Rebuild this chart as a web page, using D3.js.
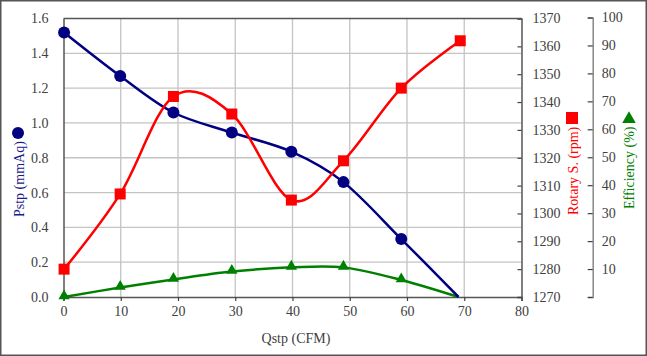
<!DOCTYPE html>
<html><head><meta charset="utf-8">
<script src="https://cdn.jsdelivr.net/npm/d3@7"></script>
<style>html,body{margin:0;padding:0;background:#fff;}svg{display:block;}
svg text{font-family:"Liberation Serif","DejaVu Serif",serif !important;}</style>
</head><body>
<script>
const qstp = [0.1, 9.9, 19.2, 29.4, 39.8, 48.9, 59.0, 69.0];
const pstp = [1.52, 1.27, 1.06, 0.945, 0.835, 0.66, 0.333, 0];
const rpmQ = [0.1, 9.9, 19.2, 29.4, 39.8, 48.9, 59.0, 69.3];
const rpm = [1280, 1307, 1342, 1335.7, 1304.8, 1318.9, 1345, 1362];
const eff = [0, 3.4, 6.3, 9.1, 10.6, 10.6, 6.1, 0];
const xTicks = [0,10,20,30,40,50,60,70,80];
const pTicks = [0,0.2,0.4,0.6,0.8,1.0,1.2,1.4,1.6];
const rTicks = [1270,1280,1290,1300,1310,1320,1330,1340,1350,1360,1370];
const eTicks = [0,10,20,30,40,50,60,70,80,90,100];

const W=647,H=356;
const svg=d3.select("body").append("svg").attr("width",W).attr("height",H);
svg.append("rect").attr("x",0.75).attr("y",0.75).attr("width",W-1.5).attr("height",H-1.5)
  .attr("fill","#fff").attr("stroke","#555").attr("stroke-width",1.5);

const x=d3.scaleLinear([0,80],[63.5,521.5]);
const yP=d3.scaleLinear([0,1.6],[297,18.5]);
const yR=d3.scaleLinear([1270,1370],[297,18.5]);
const yE=d3.scaleLinear([0,100],[297,17.5]);

// grid
const g=svg.append("g");
g.selectAll(".vg").data(xTicks.slice(1,-1)).join("line")
 .attr("x1",d=>x(d)).attr("x2",d=>x(d)).attr("y1",yP(1.6)).attr("y2",yP(0))
 .attr("stroke","#c4c4c4").attr("stroke-width",1.3);
g.selectAll(".hg").data(pTicks.slice(1,-1)).join("line")
 .attr("x1",x(0)).attr("x2",x(80)).attr("y1",d=>yP(d)).attr("y2",d=>yP(d))
 .attr("stroke","#c4c4c4").attr("stroke-width",1.3);

// axes
const axL=svg.append("g").attr("transform",`translate(${x(0)},0)`)
 .call(d3.axisLeft(yP).tickValues(pTicks).tickFormat(d3.format(".1f")).tickSize(0).tickPadding(15));
const axB=svg.append("g").attr("transform",`translate(0,${yP(0)})`)
 .call(d3.axisBottom(x).tickValues(xTicks).tickSize(4).tickPadding(5));
const axR=svg.append("g").attr("transform",`translate(${x(80)},0)`)
 .call(d3.axisLeft(yR).tickValues(rTicks).tickSize(4).tickFormat(d=>d));
axR.selectAll("text").attr("x",11).attr("text-anchor","start");
const axE=svg.append("g").attr("transform",`translate(592.7,0)`)
 .call(d3.axisLeft(yE).tickValues(eTicks).tickSize(5).tickFormat(d=>d===0?"":d));
axE.selectAll("text").attr("x",9).attr("text-anchor","start");
[axL,axB,axR,axE].forEach(a=>{
  a.attr("font-size",null).attr("font-family",null);
  a.selectAll("text").style("font-size","14px").attr("fill","#404040");
  a.selectAll(".tick line").attr("stroke","#404040").attr("stroke-width",1.2);
  a.select(".domain").attr("stroke","#555").attr("stroke-width",1.5);
});
axE.select(".domain").attr("stroke","#888");
// top border
svg.append("line").attr("x1",x(0)).attr("x2",x(80)).attr("y1",yP(1.6)).attr("y2",yP(1.6))
 .attr("stroke","#555").attr("stroke-width",1.5);

const curve=d3.curveCardinal.tension(0);
const lineP=d3.line().x(d=>x(d[0])).y(d=>yP(d[1])).curve(curve);
const lineR=d3.line().x(d=>x(d[0])).y(d=>yR(d[1])).curve(curve);
const lineE=d3.line().x(d=>x(d[0])).y(d=>yE(d[1])).curve(curve);
const dP=qstp.map((q,i)=>[q,pstp[i]]);
const dR=rpmQ.map((q,i)=>[q,rpm[i]]);
const dE=qstp.map((q,i)=>[q,eff[i]]);

svg.append("path").attr("d",lineE(dE)).attr("fill","none").attr("stroke","#008000").attr("stroke-width",2.5);
svg.append("path").attr("d",lineP(dP)).attr("fill","none").attr("stroke","#000080").attr("stroke-width",2.5);
svg.append("path").attr("d",lineR(dR)).attr("fill","none").attr("stroke","#ff0000").attr("stroke-width",2.5);

const tri=d3.symbol().type(d3.symbolTriangle).size(55);
svg.selectAll(".te").data(dE.slice(0,-1)).join("path")
 .attr("d",tri).attr("transform",d=>`translate(${x(d[0])},${yE(d[1])-1})`).attr("fill","#008000");
svg.selectAll(".cp").data(dP.slice(0,-1)).join("circle")
 .attr("cx",d=>x(d[0])).attr("cy",d=>yP(d[1])).attr("r",6).attr("fill","#000080");
svg.selectAll(".sr").data(dR).join("rect")
 .attr("x",d=>x(d[0])-5.5).attr("y",d=>yR(d[1])-5.5).attr("width",11).attr("height",11).attr("fill","#ff0000");

// axis titles
const ts="14px";
svg.append("text").attr("x",296).attr("y",343).attr("text-anchor","middle")
 .style("font-size",ts).attr("fill","#404040").text("Qstp (CFM)");

svg.append("text").attr("transform","translate(24,217) rotate(-90)").attr("text-anchor","start")
 .style("font-size",ts).attr("fill","#1a1a8c").text("Pstp (mmAq)");
svg.append("circle").attr("cx",18).attr("cy",133).attr("r",6).attr("fill","#000080");

svg.append("text").attr("transform","translate(577.5,215) rotate(-90)").attr("text-anchor","start")
 .style("font-size",ts).attr("fill","#ff0000").text("Rotary S. (rpm)");
svg.append("rect").attr("x",566).attr("y",112).attr("width",12).attr("height",12).attr("fill","#ff0000");

svg.append("text").attr("transform","translate(634,209) rotate(-90)").attr("text-anchor","start")
 .style("font-size",ts).attr("fill","#008000").text("Efficiency (%)");
svg.append("path").attr("d",d3.symbol().type(d3.symbolTriangle).size(80)).attr("transform","translate(629,119)").attr("fill","#008000");
</script>
</body></html>
